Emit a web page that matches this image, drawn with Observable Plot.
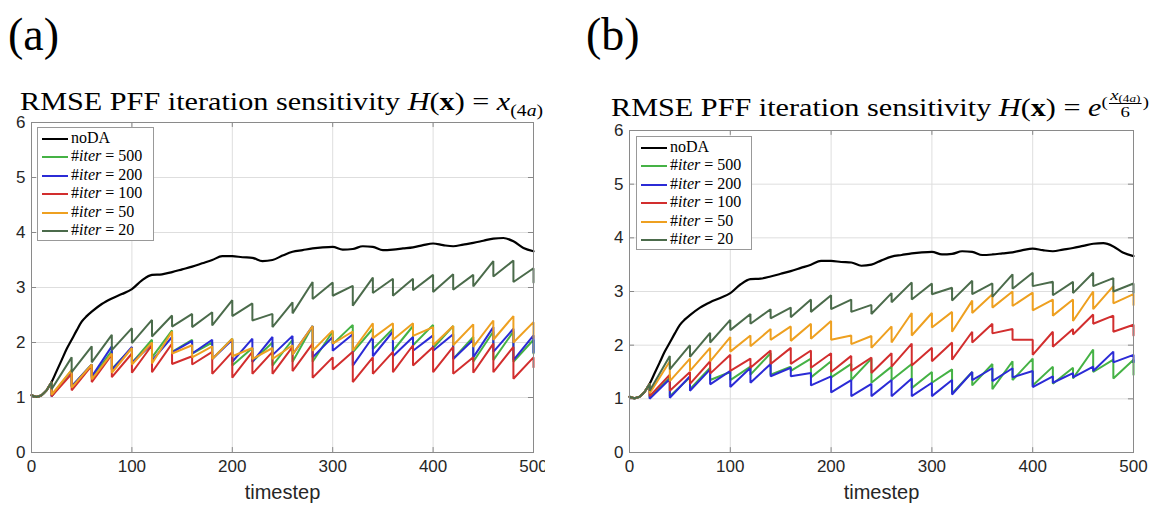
<!DOCTYPE html>
<html><head><meta charset="utf-8">
<script src="https://cdn.jsdelivr.net/npm/d3@7"></script>
<script src="https://cdn.jsdelivr.net/npm/@observablehq/plot@0.6"></script>
<style>
html,body{margin:0;padding:0;background:#fff;}
body{width:1157px;height:505px;position:relative;overflow:hidden;}
.plabel{position:absolute;font-family:"Liberation Serif",serif;font-size:46px;line-height:46px;color:#000;white-space:nowrap;}
.title{position:absolute;font-family:"Liberation Serif",serif;font-size:25px;line-height:25px;color:#000;white-space:nowrap;transform-origin:0 0;}
.title sub{font-size:65%;vertical-align:-0.35em;line-height:0;}
.sup{display:inline-block;font-size:62%;vertical-align:0.55em;line-height:1;}
.frac{display:inline-flex;flex-direction:column;align-items:center;vertical-align:middle;margin:0 1px;}
.frac .num{border-bottom:1px solid #000;padding:0 1px;font-size:100%;line-height:1.05;}
.frac .num sub{font-size:70%;vertical-align:-0.2em;}
.frac .den{line-height:1.05;}
.chart{position:absolute;overflow:hidden;}
.legend{position:absolute;background:#fff;border:1px solid #999;box-sizing:border-box;font-family:"Liberation Serif",serif;font-size:16px;color:#000;}
.row{position:absolute;left:0;height:18px;white-space:nowrap;}
.row .sw{position:absolute;left:4px;width:26px;top:8px;height:0;border-top:2px solid #000;}
.row .tx{position:absolute;left:33px;top:-1px;line-height:18px;}
</style>
</head><body>
<div id="root"></div>
<script>
// ---------------- data ----------------
const obsSteps = [20,40,60,80,100,120,140,160,180,200,220,240,260,280,300,320,340,360,380,400,420,440,460,480,500];
const xTicks = [0,100,200,300,400,500];
const yTicks = [0,1,2,3,4,5,6];
const seriesNames = ["noDA","#iter = 500","#iter = 200","#iter = 100","#iter = 50","#iter = 20"];
const seriesColors = ["#000000","#45b245","#2b2bd6","#d22e2e","#eea020","#4b6b4b"];

const noDA_t = [0,5,10,15,20,25,30,35,40,45,50,55,60,70,80,90,100,110,120,130,140,150,160,170,180,190,200,210,220,230,240,250,260,270,280,290,300,310,320,330,340,350,360,370,380,390,400,410,420,430,440,450,460,470,480,490,500];
const noDA_v = [1.04,1.01,1.04,1.13,1.28,1.48,1.68,1.88,2.05,2.22,2.38,2.48,2.56,2.70,2.80,2.88,2.97,3.13,3.23,3.24,3.28,3.33,3.38,3.44,3.50,3.57,3.57,3.55,3.54,3.48,3.50,3.58,3.65,3.68,3.71,3.73,3.74,3.69,3.70,3.75,3.74,3.68,3.69,3.71,3.73,3.77,3.80,3.77,3.75,3.78,3.81,3.85,3.89,3.90,3.84,3.72,3.66];

// panel (a): H(x) = x_(4a); peaks at t=40..500, troughs at t=20..500
const a500_peak   = [1.50,1.60,1.85,1.90,2.05,2.22,2.05,2.00,2.07,1.90,2.00,2.05,2.30,2.20,2.32,2.25,2.25,2.30,2.32,2.30,2.10,2.20,2.20,2.05];
const a500_trough = [1.03,1.20,1.35,1.52,1.63,1.73,1.83,1.80,1.70,1.58,1.65,1.58,1.65,1.65,1.97,1.82,1.88,1.85,1.95,1.90,1.70,1.65,1.68,1.65,1.80];
const a200_peak   = [1.48,1.60,1.93,1.92,1.97,2.10,2.03,2.05,2.05,2.07,2.10,2.12,2.30,2.10,2.15,2.10,2.20,2.10,2.13,2.15,2.05,2.28,2.25,2.13];
const a200_trough = [1.02,1.20,1.38,1.50,1.63,1.67,1.82,1.80,1.70,1.65,1.65,1.77,1.78,1.73,1.85,1.58,1.75,1.75,1.85,1.85,1.70,1.73,1.83,1.68,1.82];
const a100_peak   = [1.43,1.58,1.78,1.80,1.95,1.98,1.75,1.83,1.83,1.83,1.83,1.92,1.98,1.73,1.83,1.73,1.83,1.95,1.92,1.92,1.73,1.98,1.92,1.73];
const a100_trough = [1.02,1.13,1.28,1.37,1.45,1.46,1.61,1.60,1.43,1.36,1.43,1.43,1.48,1.36,1.51,1.28,1.43,1.46,1.58,1.46,1.43,1.45,1.46,1.34,1.55];
const a50_peak    = [1.50,1.60,1.80,1.90,2.00,2.20,1.95,1.93,2.07,1.90,1.90,1.95,2.30,2.22,2.20,2.35,2.35,2.35,2.28,2.30,2.33,2.40,2.48,2.37];
const a50_trough  = [1.05,1.18,1.33,1.45,1.60,1.62,1.80,1.73,1.70,1.75,1.70,1.70,1.78,1.85,1.98,1.85,2.08,2.05,2.12,1.95,1.95,1.92,2.05,2.00,2.08];
const a20_peak    = [1.73,1.93,2.14,2.26,2.41,2.49,2.52,2.55,2.77,2.71,2.52,2.73,3.10,3.09,3.03,3.18,3.16,3.16,3.23,3.24,3.23,3.48,3.49,3.35];
const a20_trough  = [1.15,1.46,1.64,1.86,1.99,2.11,2.29,2.28,2.31,2.48,2.40,2.28,2.53,2.79,2.85,2.67,2.90,2.85,2.95,2.92,2.96,3.02,3.20,3.10,3.09];

// panel (b): H(x) = exp(x_(4a)/6)
const b500_peak   = [1.40,1.40,1.58,1.50,1.60,1.85,1.60,1.75,1.70,1.65,1.75,1.60,1.65,1.50,1.55,1.50,1.65,1.70,1.75,1.60,1.58,1.92,1.73,1.73];
const b500_trough = [1.02,1.05,1.18,1.35,1.35,1.45,1.45,1.52,1.40,1.40,1.35,1.30,1.35,1.20,1.30,1.10,1.25,1.18,1.35,1.25,1.28,1.38,1.50,1.38,1.45];
const b200_peak   = [1.37,1.42,1.55,1.52,1.58,1.65,1.58,1.48,1.42,1.35,1.28,1.35,1.38,1.30,1.35,1.50,1.57,1.57,1.52,1.42,1.48,1.60,1.88,1.82];
const b200_trough = [1.00,1.02,1.15,1.27,1.22,1.30,1.42,1.42,1.25,1.12,1.05,1.05,1.05,1.05,1.05,1.08,1.35,1.33,1.40,1.22,1.30,1.40,1.52,1.68,1.68];
const b100_peak   = [1.45,1.50,1.70,1.82,1.75,1.90,1.95,1.90,1.85,1.80,1.77,1.85,2.03,1.95,2.05,2.25,2.40,2.30,2.10,2.25,2.30,2.57,2.55,2.38];
const b100_trough = [1.05,1.15,1.28,1.47,1.52,1.58,1.65,1.65,1.58,1.50,1.52,1.48,1.60,1.62,1.70,1.73,2.05,2.22,2.10,1.82,1.97,2.20,2.40,2.25,2.18];
const b50_peak    = [1.70,1.75,1.95,2.15,2.18,2.30,2.35,2.40,2.45,2.18,2.17,2.35,2.60,2.60,2.62,2.83,2.95,3.00,2.98,2.85,2.85,3.00,3.10,2.95];
const b50_trough  = [1.10,1.33,1.52,1.70,1.88,1.98,2.10,2.08,2.12,2.10,2.02,1.95,2.05,2.18,2.33,2.25,2.60,2.70,2.73,2.65,2.55,2.45,2.67,2.78,2.75];
const b20_peak    = [1.80,2.00,2.23,2.47,2.58,2.67,2.70,2.85,2.93,2.85,2.75,2.97,3.17,3.15,3.07,3.20,3.15,3.32,3.35,3.18,3.18,3.35,3.25,3.15];
const b20_trough  = [1.15,1.55,1.78,2.05,2.28,2.40,2.50,2.52,2.62,2.67,2.62,2.58,2.80,2.85,2.95,2.83,2.95,2.90,3.05,3.10,2.93,2.97,3.10,3.00,2.97];

// ---------------- build ----------------
const noDA = noDA_t.map((t,i)=>({t, v: noDA_v[i]}));
function sawtooth(peaks, troughs) {
  const pts = noDA.filter(d => d.t <= obsSteps[0]);
  obsSteps.forEach((t,k) => {
    if (k > 0) pts.push({t, v: peaks[k-1]});
    pts.push({t, v: troughs[k]});
  });
  return pts;
}

function panel(opts) {
  const {series, width, height, mL, mR, mT, mB} = opts;
  const marks = [
    Plot.gridX(xTicks, {stroke: "#dedede", strokeOpacity: 1, strokeWidth: 1}),
    Plot.gridY(yTicks, {stroke: "#dedede", strokeOpacity: 1, strokeWidth: 1}),
    Plot.ruleY(yTicks, {x1: 0, x2: 5, stroke: "#888"}),
    Plot.ruleY(yTicks, {x1: 495, x2: 500, stroke: "#888"}),
    Plot.ruleX(xTicks, {y1: 0, y2: 0.09, stroke: "#888"}),
    Plot.ruleX(xTicks, {y1: 5.91, y2: 6, stroke: "#888"}),
    Plot.line(noDA, {x: "t", y: "v", stroke: seriesColors[0], strokeWidth: 2.2, curve: "monotone-x"})
  ];
  series.forEach((pts, i) => {
    marks.push(Plot.line(pts, {x: "t", y: "v", stroke: seriesColors[i+1], strokeWidth: 2, strokeLinejoin: "miter"}));
  });
  marks.push(Plot.frame({stroke: "#8a8a8a", strokeWidth: 1}));
  marks.push(Plot.axisX(xTicks, {tickSize: 0, tickPadding: 7, label: null, fontSize: 17, tickFormat: d => String(d)}));
  marks.push(Plot.axisY(yTicks, {tickSize: 0, tickPadding: 6, label: null, fontSize: 17, tickFormat: d => String(d)}));
  marks.push(Plot.text(["timestep"], {frameAnchor: "bottom", dy: 46, lineAnchor: "bottom", fontSize: 20, fill: "#262626"}));
  return Plot.plot({
    width, height, marginLeft: mL, marginRight: mR, marginTop: mT, marginBottom: mB,
    style: {fontFamily: "'Liberation Sans', Arial, sans-serif", fontSize: "17px", color: "#262626", background: "transparent", overflow: "visible"},
    x: {domain: [0, 500], label: null},
    y: {domain: [0, 6], label: null},
    marks
  });
}

const root = document.getElementById("root");
function addDiv(cls, css, html) {
  const d = document.createElement("div");
  d.className = cls;
  Object.assign(d.style, css);
  if (html != null) d.innerHTML = html;
  root.appendChild(d);
  return d;
}

// panel a
const ca = addDiv("chart", {left: "0px", top: "110px", width: "545px", height: "395px"});
ca.appendChild(panel({
  series: [sawtooth(a500_peak,a500_trough), sawtooth(a200_peak,a200_trough), sawtooth(a100_peak,a100_trough), sawtooth(a50_peak,a50_trough), sawtooth(a20_peak,a20_trough)],
  width: 545, height: 395, mL: 31, mR: 12, mT: 12, mB: 53
}));
// panel b
const cb = addDiv("chart", {left: "598px", top: "118px", width: "559px", height: "387px"});
cb.appendChild(panel({
  series: [sawtooth(b500_peak,b500_trough), sawtooth(b200_peak,b200_trough), sawtooth(b100_peak,b100_trough), sawtooth(b50_peak,b50_trough), sawtooth(b20_peak,b20_trough)],
  width: 559, height: 387, mL: 31, mR: 24, mT: 12, mB: 53
}));

// panel labels
addDiv("plabel", {left: "8px", top: "12px"}, "(a)");
addDiv("plabel", {left: "586px", top: "12px"}, "(b)");

// titles
const ta = addDiv("title", {left: "20px", top: "89px"},
  'RMSE PFF iteration sensitivity <i>H</i>(<b>x</b>) = <i>x</i><sub>(4<i>a</i>)</sub>');
const tb = addDiv("title", {left: "611px", top: "87px"},
  'RMSE PFF iteration sensitivity <i>H</i>(<b>x</b>) = <i>e</i><span class="sup">(<span class="frac"><span class="num"><i>x</i><sub>(4<i>a</i>)</sub></span><span class="den">6</span></span>)</span>');
function fitWidth(el, w) {
  const r = el.getBoundingClientRect();
  el.style.transform = `scaleX(${w / r.width})`;
}
fitWidth(ta, 523);
fitWidth(tb, 538);

// legends
function legend(left, top, w, h) {
  const L = addDiv("legend", {left: left+"px", top: top+"px", width: w+"px", height: h+"px"});
  seriesNames.forEach((name, i) => {
    const r = document.createElement("div");
    r.className = "row";
    r.style.top = (2 + i*18.4) + "px";
    const label = name === "noDA" ? "noDA" : name.replace("#iter", "#<i>iter</i>");
    r.innerHTML = `<span class="sw" style="border-top-color:${seriesColors[i]}"></span><span class="tx">${label}</span>`;
    L.appendChild(r);
  });
}
legend(37, 127, 117, 114);
legend(636, 136, 116, 114);
</script>
</body></html>
